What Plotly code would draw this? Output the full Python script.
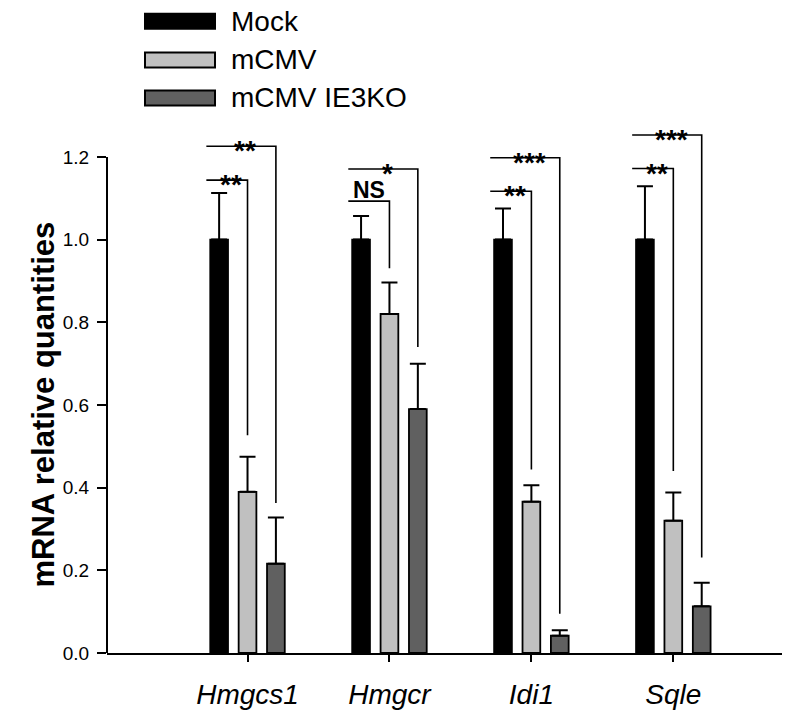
import plotly.graph_objects as go

# ---------------- data ----------------
genes = ["Hmgcs1", "Hmgcr", "Idi1", "Sqle"]
series_names = ["Mock", "mCMV", "mCMV IE3KO"]
mock_vals = [1.00, 1.00, 1.00, 1.00]
mock_err = [0.113, 0.057, 0.075, 0.129]
mcmv_vals = [0.390, 0.820, 0.366, 0.320]
mcmv_err = [0.085, 0.076, 0.040, 0.068]
ko_vals = [0.216, 0.590, 0.042, 0.113]
ko_err = [0.112, 0.110, 0.013, 0.057]

y_ticks = [0.0, 0.2, 0.4, 0.6, 0.8, 1.0, 1.2]

# significance: label, bracket height, lower end of the drop line (per gene)
sig_vs_mcmv = ["**", "NS", "**", "**"]
sig_vs_mcmv_height = [1.144, 1.093, 1.117, 1.172]
sig_vs_mcmv_end = [0.527, 0.931, 0.444, 0.440]
sig_vs_ko = ["**", "*", "***", "***"]
sig_vs_ko_height = [1.226, 1.171, 1.198, 1.253]
sig_vs_ko_end = [0.363, 0.740, 0.095, 0.231]

# ---------------- style ----------------
colors = ["#000000", "#c0c0c0", "#606060"]
offsets = [-0.2, 0.0, 0.2]
bar_w = 0.125
FONT = "Liberation Sans, Arial, sans-serif"

PAGE = 8  # default body margin of the html page
W, H = 790 - PAGE, 713 - PAGE
ML, MR, MT, MB = 107 - PAGE, 1, 128 - PAGE, 60
plot_w = W - ML - MR
plot_h = H - MT - MB


def px_x(px):
    """screen pixel x -> paper x"""
    return (px - PAGE - ML) / plot_w


def px_y(py):
    """screen pixel y -> paper y"""
    return (H - MB - (py - PAGE)) / plot_h


fig = go.Figure()

vals_all = [mock_vals, mcmv_vals, ko_vals]
errs_all = [mock_err, mcmv_err, ko_err]
for k in range(3):
    fig.add_trace(go.Bar(
        x=[i + offsets[k] for i in range(len(genes))],
        y=vals_all[k],
        width=bar_w,
        name=series_names[k],
        marker=dict(color=colors[k], line=dict(color="black", width=1.8)),
        error_y=dict(type="data", symmetric=False, array=errs_all[k],
                     arrayminus=[0] * len(genes), color="black",
                     thickness=2, width=8),
        showlegend=False,
        hoverinfo="skip",
    ))

# significance brackets
left_off = -0.29
annos = []
for comp_labels, heights, ends, tgt in [
    (sig_vs_mcmv, sig_vs_mcmv_height, sig_vs_mcmv_end, offsets[1]),
    (sig_vs_ko, sig_vs_ko_height, sig_vs_ko_end, offsets[2]),
]:
    for i in range(len(genes)):
        x0 = i + left_off
        x1 = i + tgt
        fig.add_trace(go.Scatter(
            x=[x0, x1, x1], y=[heights[i], heights[i], ends[i]],
            mode="lines", line=dict(color="black", width=1.6),
            showlegend=False, hoverinfo="skip", cliponaxis=False,
        ))
        lab = comp_labels[i]
        if "*" in lab:
            annos.append(dict(x=(x0 + x1) / 2 + 0.03, y=heights[i], xref="x", yref="y",
                              text=lab, showarrow=False, yanchor="bottom",
                              yshift=-22,
                              font=dict(family=FONT, size=28, color="black",
                                        weight="bold")))
        else:
            annos.append(dict(x=(x0 + x1) / 2, y=heights[i], xref="x", yref="y",
                              text=lab, showarrow=False, yanchor="bottom",
                              yshift=-4,
                              font=dict(family=FONT, size=23, color="black",
                                        weight="bold")))

# y-axis title (centred on the drawn axis)
annos.append(dict(x=px_x(24), y=(y_ticks[0] + y_ticks[-1]) / 2, xref="paper", yref="y",
                  text="mRNA relative quantities", textangle=-90, showarrow=False,
                  font=dict(family=FONT, size=31, color="black", weight="bold")))

# manual legend with wide swatches
row_centers = [21.3, 60.0, 98.0]
shapes = []
for k in range(3):
    yc = row_centers[k]
    shapes.append(dict(type="rect", xref="paper", yref="paper",
                       x0=px_x(145), x1=px_x(215), y0=px_y(yc - 7.5), y1=px_y(yc + 7.5),
                       fillcolor=colors[k], line=dict(color="black", width=2)))
    annos.append(dict(x=px_x(229), y=px_y(yc), xref="paper", yref="paper",
                      text=series_names[k], showarrow=False, xanchor="left",
                      yanchor="middle",
                      font=dict(family=FONT, size=28, color="black")))

# y axis line only up to the last tick
shapes.append(dict(type="line", xref="paper", yref="y", x0=0, x1=0,
                   y0=y_ticks[0], y1=y_ticks[-1], line=dict(color="black", width=2)))

fig.update_layout(
    width=W, height=H,
    margin=dict(l=ML, r=MR, t=MT, b=MB, pad=0),
    paper_bgcolor="white", plot_bgcolor="white",
    barmode="overlay",
    annotations=annos,
    shapes=shapes,
    font=dict(family=FONT, color="black"),
)
fig.update_xaxes(
    range=[-0.99, 3.815],
    tickvals=list(range(len(genes))), ticktext=genes,
    tickfont=dict(family=FONT, size=28, color="black", style="italic"),
    ticks="outside", ticklen=7, tickwidth=2, tickcolor="black",
    ticklabelstandoff=8,
    showline=True, linecolor="black", linewidth=2,
    showgrid=False, zeroline=False,
)
fig.update_yaxes(
    range=[0, 1.270],
    tickvals=y_ticks, tickformat=".1f",
    tickfont=dict(family=FONT, size=19, color="black"),
    ticks="outside", ticklen=9, tickwidth=2, tickcolor="black",
    ticklabelstandoff=4,
    showline=False, showgrid=False, zeroline=False,
)

fig.write_html("out.html")
